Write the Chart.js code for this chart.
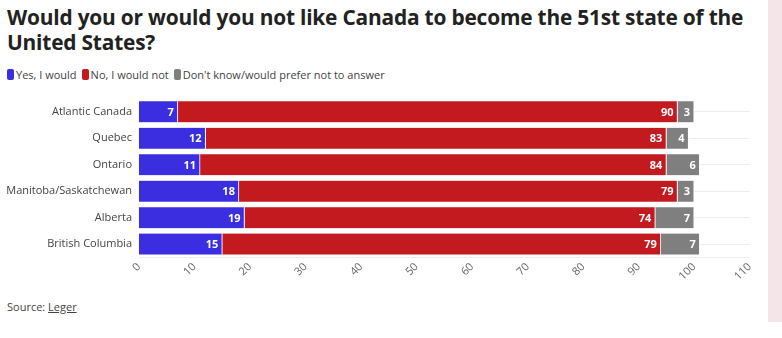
<!DOCTYPE html>
<html>
<head>
<meta charset="utf-8">
<script src="https://cdn.jsdelivr.net/npm/chart.js@4"></script>
<style>
  body { margin: 0; background: #fff; width: 782px; height: 338px; overflow: hidden; position: relative; font-family: 'Open Sans', sans-serif; }
  .strip { position: absolute; left: 768px; top: 0; width: 14px; height: 322px; background: #f4e6e8; }
  h1 { position: absolute; left: 7px; top: 5px; margin: 0; font-family: 'Open Sans', sans-serif; font-weight: 700; font-size: 20.9px; line-height: 25px; color: #222; letter-spacing: -0.2px; width: 760px; }
  .legend { position: absolute; left: 7px; top: 67px; font-size: 11px; color: #444; display: flex; gap: 5px; }
  .legend span i { display: inline-block; width: 7px; height: 11px; border-radius: 2px; margin-right: 2px; vertical-align: -1px; }
  .source { position: absolute; left: 7px; top: 299px; font-size: 11px; color: #444; }
  .source u { text-decoration: underline; }
  .wrap { position: absolute; left: 0; top: 85px; width: 762px; height: 201px; }
</style>
</head>
<body>
<div class="strip"></div>
<h1>Would you or would you not like Canada to become the 51st state of the United States?</h1>
<div class="legend">
  <span><i style="background:#3b2ee0"></i>Yes, I would</span>
  <span><i style="background:#c21a1f"></i>No, I would not</span>
  <span><i style="background:#7f7f7f"></i>Don't know/would prefer not to answer</span>
</div>
<div class="wrap"><canvas id="c"></canvas></div>
<div class="source">Source: <u>Leger</u></div>
<script>
const regions = ['Atlantic Canada', 'Quebec', 'Ontario', 'Manitoba/Saskatchewan', 'Alberta', 'British Columbia'];
const yes = [7, 12, 11, 18, 19, 15];
const no = [90, 83, 84, 79, 74, 79];
const dontKnow = [3, 4, 6, 3, 7, 7];

const labelPlugin = {
  id: 'segLabels',
  afterDatasetsDraw(chart) {
    const ctx = chart.ctx;
    ctx.save();
    ctx.font = 'bold 11px "Open Sans", sans-serif';
    ctx.fillStyle = '#fff';
    ctx.textAlign = 'right';
    ctx.textBaseline = 'middle';
    chart.data.datasets.forEach((ds, i) => {
      chart.getDatasetMeta(i).data.forEach((bar, j) => {
        ctx.fillText(String(ds.data[j]), bar.x - 4, bar.y + 1);
      });
    });
    ctx.restore();
  }
};

new Chart(document.getElementById('c'), {
  type: 'bar',
  data: {
    labels: regions,
    datasets: [
      { label: 'Yes, I would', data: yes, backgroundColor: '#3b2ee0' },
      { label: 'No, I would not', data: no, backgroundColor: '#c21a1f' },
      { label: "Don't know/would prefer not to answer", data: dontKnow, backgroundColor: '#7f7f7f' },
    ].map(d => ({ ...d, borderColor: '#fff', borderWidth: { left: 0, right: 1, top: 0, bottom: 0 }, borderSkipped: false, barThickness: 21 })),
  },
  options: {
    indexAxis: 'y',
    responsive: true, maintainAspectRatio: false,
    animation: false,
    layout: { padding: { top: 2, right: 12, left: 0, bottom: 0 } },
    plugins: { legend: { display: false }, tooltip: { enabled: false } },
    scales: {
      x: {
        stacked: true, min: 0, max: 110,
        ticks: { stepSize: 10, maxRotation: 45, minRotation: 45, color: '#666', font: { family: 'Open Sans', size: 11 } },
        grid: { display: false, drawTicks: false },
        border: { display: true, color: '#eee' },
      },
      y: {
        stacked: true,
        ticks: { color: '#444', padding: 7, font: { family: 'Open Sans', size: 11 } },
        grid: { offset: false, color: '#eee', drawTicks: false },
        border: { display: false },
        afterFit(scale) { scale.width = 139; },
      },
    },
  },
  plugins: [labelPlugin],
});
</script>
</body>
</html>
